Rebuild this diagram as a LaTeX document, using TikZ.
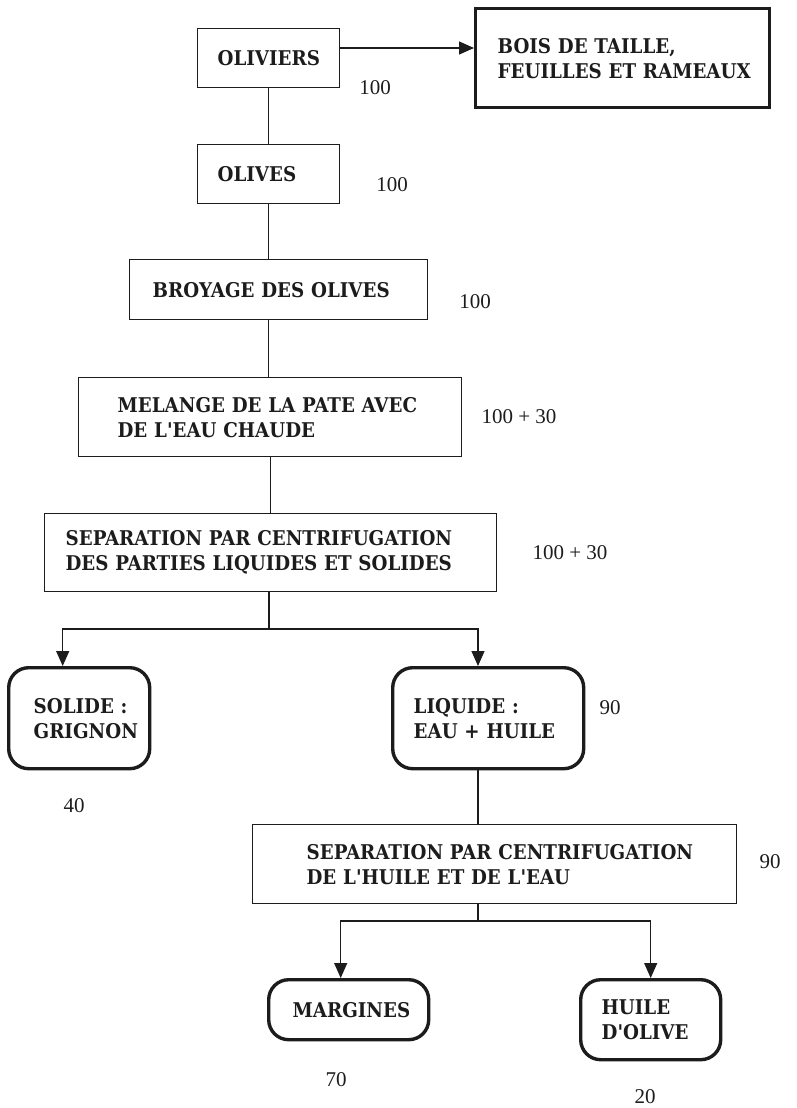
\documentclass[tikz,border=0pt]{standalone}
\usepackage{fontspec}
\setmainfont{Liberation Serif}
\newfontfamily\boxfont{DejaVu Serif Condensed}
\usetikzlibrary{arrows.meta}
\definecolor{ink}{HTML}{1C1C1C}
% one unbreakable line of box text
\newcommand\boxline[1]{\mbox{#1}}

\begin{document}
\begin{tikzpicture}[x=1pt, y=-1pt,
  every node/.style={text=ink},
  base/.style={draw=ink, anchor=north west, inner ysep=0pt, align=left,
    font=\boxfont\bfseries\fontsize{20.3}{25}\selectfont},
  plain/.style={base, line width=1.3pt},
  heavy/.style={base, line width=3.4pt},
  round/.style={base, line width=3.4pt, rounded corners=20pt},
  qty/.style={font=\fontsize{21}{24}\selectfont},
  link/.style={draw=ink, line width=1.3pt},
  arr/.style={link, -{Triangle[length=15pt, width=13pt]}}
]
\useasboundingbox (0,0) rectangle (796,1108);

% process boxes: corner, size, left padding
\node[plain, minimum height=59pt, text width=102pt, inner xsep=20pt] (oliviers) at (197,28) {\boxline{OLIVIERS}};
\node[heavy, minimum height=99pt, text width=250pt, inner xsep=22pt] (bois) at (474,7) {\boxline{BOIS DE TAILLE,}\\\boxline{FEUILLES ET RAMEAUX}};
\node[plain, minimum height=59pt, text width=102pt, inner xsep=20pt] (olives) at (197,144) {\boxline{OLIVES}};
\node[plain, minimum height=60pt, text width=252pt, inner xsep=23pt] (broyage) at (129,259) {\boxline{BROYAGE DES OLIVES}};
\node[plain, minimum height=79pt, text width=305pt, inner xsep=39pt] (melange) at (78,377) {\boxline{MELANGE DE LA PATE AVEC}\\\boxline{DE L'EAU CHAUDE}};
\node[plain, minimum height=78pt, text width=410pt, inner xsep=21pt] (sep1) at (44,513) {\boxline{SEPARATION PAR CENTRIFUGATION}\\\boxline{DES PARTIES LIQUIDES ET SOLIDES}};
\node[round, minimum height=101pt, text width=91pt, inner xsep=25pt] (solide) at (7,666) {\boxline{SOLIDE :}\\\boxline{GRIGNON}};
\node[round, minimum height=101pt, text width=149pt, inner xsep=21pt] (liquide) at (391,666) {\boxline{LIQUIDE :}\\\boxline{EAU + HUILE}};
\node[plain, minimum height=79pt, text width=376pt, inner xsep=54pt] (sep2) at (252,824) {\boxline{SEPARATION PAR CENTRIFUGATION}\\\boxline{DE L'HUILE ET DE L'EAU}};
\node[round, minimum height=60pt, text width=112pt, inner xsep=24pt] (margines) at (267,978) {\boxline{MARGINES}};
\node[round, minimum height=80pt, text width=98pt, inner xsep=21pt] (huile) at (579,978) {\boxline{HUILE}\\\boxline{D'OLIVE}};

% quantities
\node[qty] (q1) at (375,88) {100};
\node[qty] (q2) at (392,185) {100};
\node[qty] (q3) at (475,302) {100};
\node[qty] (q4) at (519,417) {100 + 30};
\node[qty] (q5) at (570,553) {100 + 30};
\node[qty] (q6) at (610,708) {90};
\node[qty] (q7) at (74,806) {40};
\node[qty] (q8) at (770,862) {90};
\node[qty] (q9) at (336,1080) {70};
\node[qty] (q10) at (645,1097) {20};

% junction points of the branching connectors
\coordinate (side) at (0,48);
\coordinate (j1) at (269,629);
\coordinate (j2) at (478,921);

% main trunk
\draw[arr] (oliviers.east |- side) -- (bois.west |- side);
\draw[link] (oliviers.south) -- (olives.north -| oliviers.south);
\draw[link] (olives.south) -- (broyage.north -| olives.south);
\draw[link] (olives.south |- broyage.south) -- (melange.north -| olives.south);
\draw[link] (melange.south) -- (sep1.north -| melange.south);
\draw[link] (sep1.south -| j1) -- (j1);
\draw[arr] (j1) -| ([xshift=-16.5pt]solide.north);
\draw[arr] (j1) -| (liquide.north -| j2);
\draw[link] (liquide.south -| j2) -- (sep2.north -| j2);
\draw[link] (sep2.south -| j2) -- (j2);
\draw[arr] (j2) -| ([xshift=-8pt]margines.north);
\draw[arr] (j2) -| (huile.north);
\end{tikzpicture}
\end{document}
